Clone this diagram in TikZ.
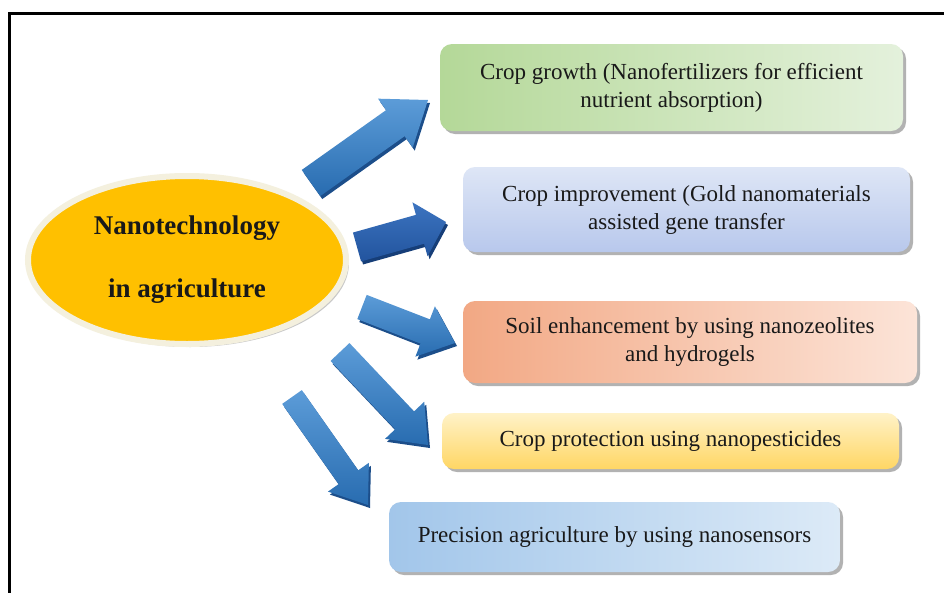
\documentclass[tikz,border=0pt]{standalone}
\usepackage{fontspec}
\setmainfont{Liberation Serif}
\usetikzlibrary{calc,shapes.geometric,shadows}

\definecolor{txt}{RGB}{25,25,25}
\definecolor{hubfill}{RGB}{255,192,0}
\definecolor{hubrim}{RGB}{244,240,222}
\definecolor{grnA}{RGB}{180,216,152}
\definecolor{grnB}{RGB}{228,241,220}
\definecolor{lavA}{RGB}{184,200,236}
\definecolor{lavB}{RGB}{222,230,246}
\definecolor{orgA}{RGB}{242,168,132}
\definecolor{orgB}{RGB}{252,228,216}
\definecolor{ylwA}{RGB}{255,214,100}
\definecolor{ylwB}{RGB}{255,242,200}
\definecolor{skyA}{RGB}{162,198,234}
\definecolor{skyB}{RGB}{220,234,247}
\definecolor{arrTop}{RGB}{92,156,216}
\definecolor{arrBot}{RGB}{40,108,176}
\definecolor{arrDeep}{RGB}{28,78,138}
\definecolor{arrTopD}{RGB}{60,116,192}
\definecolor{arrBotD}{RGB}{34,84,158}
\definecolor{arrDeepD}{RGB}{22,62,120}

\tikzset{
  card/.style={rectangle, rounded corners=12pt, inner sep=0pt, align=center,
    font=\fontsize{23}{28}\selectfont, text=txt,
    drop shadow={shadow xshift=3pt, shadow yshift=-3pt, opacity=.3, fill=black}},
  hubstyle/.style={ellipse, fill=hubfill, draw=hubrim, line width=6pt, inner sep=0pt,
    align=center, font=\fontsize{27}{32}\selectfont\bfseries, text=txt,
    drop shadow={shadow xshift=3pt, shadow yshift=-3pt, opacity=.3, fill=black!70}},
  faceA/.style={top color=arrTop, bottom color=arrBot},
  faceB/.style={top color=arrTopD, bottom color=arrBotD},
  deepA/.style={fill=arrDeep},
  deepB/.style={fill=arrDeepD},
}

% block arrow from tail #1 to tip #2:
% #3 half shaft, #4 half head, #5 head length, #6 face style, #7 depth style
\newcommand\blockarrow[7]{%
  \coordinate (ds) at ($(#1)+(2,-3)$);
  \coordinate (de) at ($(#2)+(2,-3)$);
  \coordinate (dh) at ($(de)!#5!(ds)$);
  \path[#7] ($(ds)!#3!-90:(de)$) -- ($(dh)!#3!-90:(de)$) -- ($(dh)!#4!-90:(de)$)
    -- (de) -- ($(dh)!#4!90:(de)$) -- ($(dh)!#3!90:(de)$) -- ($(ds)!#3!90:(de)$) -- cycle;
  \coordinate (fh) at ($(#2)!#5!(#1)$);
  \path[#6] ($(#1)!#3!-90:(#2)$) -- ($(fh)!#3!-90:(#2)$) -- ($(fh)!#4!-90:(#2)$)
    -- (#2) -- ($(fh)!#4!90:(#2)$) -- ($(fh)!#3!90:(#2)$) -- ($(#1)!#3!90:(#2)$) -- cycle;
}

\begin{document}
\begin{tikzpicture}[x=1pt,y=1pt]
  \useasboundingbox (0,0) rectangle (944,-592);
  \fill[white] (0,0) rectangle (944,-592);

  % frame
  \draw[line width=3pt] (9,-600) -- (9,-13) -- (950,-13);

  % central topic
  \node[hubstyle, minimum width=318pt, minimum height=168pt] (hub) at (187,-260)
    {Nanotechnology\\[31pt]in agriculture};

  % application cards
  \node[card, left color=grnA, right color=grnB, minimum width=463pt, minimum height=87pt]
    (b1) at (671.5,-87.5) {Crop growth (Nanofertilizers for efficient\\nutrient absorption)};
  \node[card, top color=lavB, bottom color=lavA, minimum width=447pt, minimum height=85pt]
    (b2) at (686.5,-209.5) {Crop improvement (Gold nanomaterials\\assisted gene transfer};
  \node[card, left color=orgA, right color=orgB, minimum width=454pt, minimum height=82pt]
    (b3) at (690,-342) {Soil enhancement by using nanozeolites\\and hydrogels};
  \node[card, top color=ylwB, bottom color=ylwA, minimum width=457pt, minimum height=56pt]
    (b4) at (670.5,-441) {Crop protection using nanopesticides};
  \node[card, left color=skyA, right color=skyB, minimum width=451pt, minimum height=70pt]
    (b5) at (614.5,-537) {\raisebox{5pt}{Precision agriculture by using nanosensors}};

  % arrow end points
  \coordinate (a1s) at (311,-183);  \coordinate (a1e) at (428,-100);
  \coordinate (a2s) at (357,-247);  \coordinate (a2e) at (446,-222);
  \coordinate (a3s) at (362,-307);  \coordinate (a3e) at (455,-343);
  \coordinate (a4s) at (340,-352);  \coordinate (a4e) at (428,-445);
  \coordinate (a5s) at (292,-397);  \coordinate (a5e) at (368,-505);

  \blockarrow{a1s}{a1e}{16pt}{30pt}{40pt}{faceA}{deepA}
  \blockarrow{a2s}{a2e}{15pt}{28pt}{27pt}{faceB}{deepB}
  \blockarrow{a3s}{a3e}{13pt}{27pt}{32pt}{faceA}{deepA}
  \blockarrow{a4s}{a4e}{13pt}{27pt}{34pt}{faceA}{deepA}
  \blockarrow{a5s}{a5e}{12pt}{25pt}{34pt}{faceA}{deepA}
\end{tikzpicture}
\end{document}
